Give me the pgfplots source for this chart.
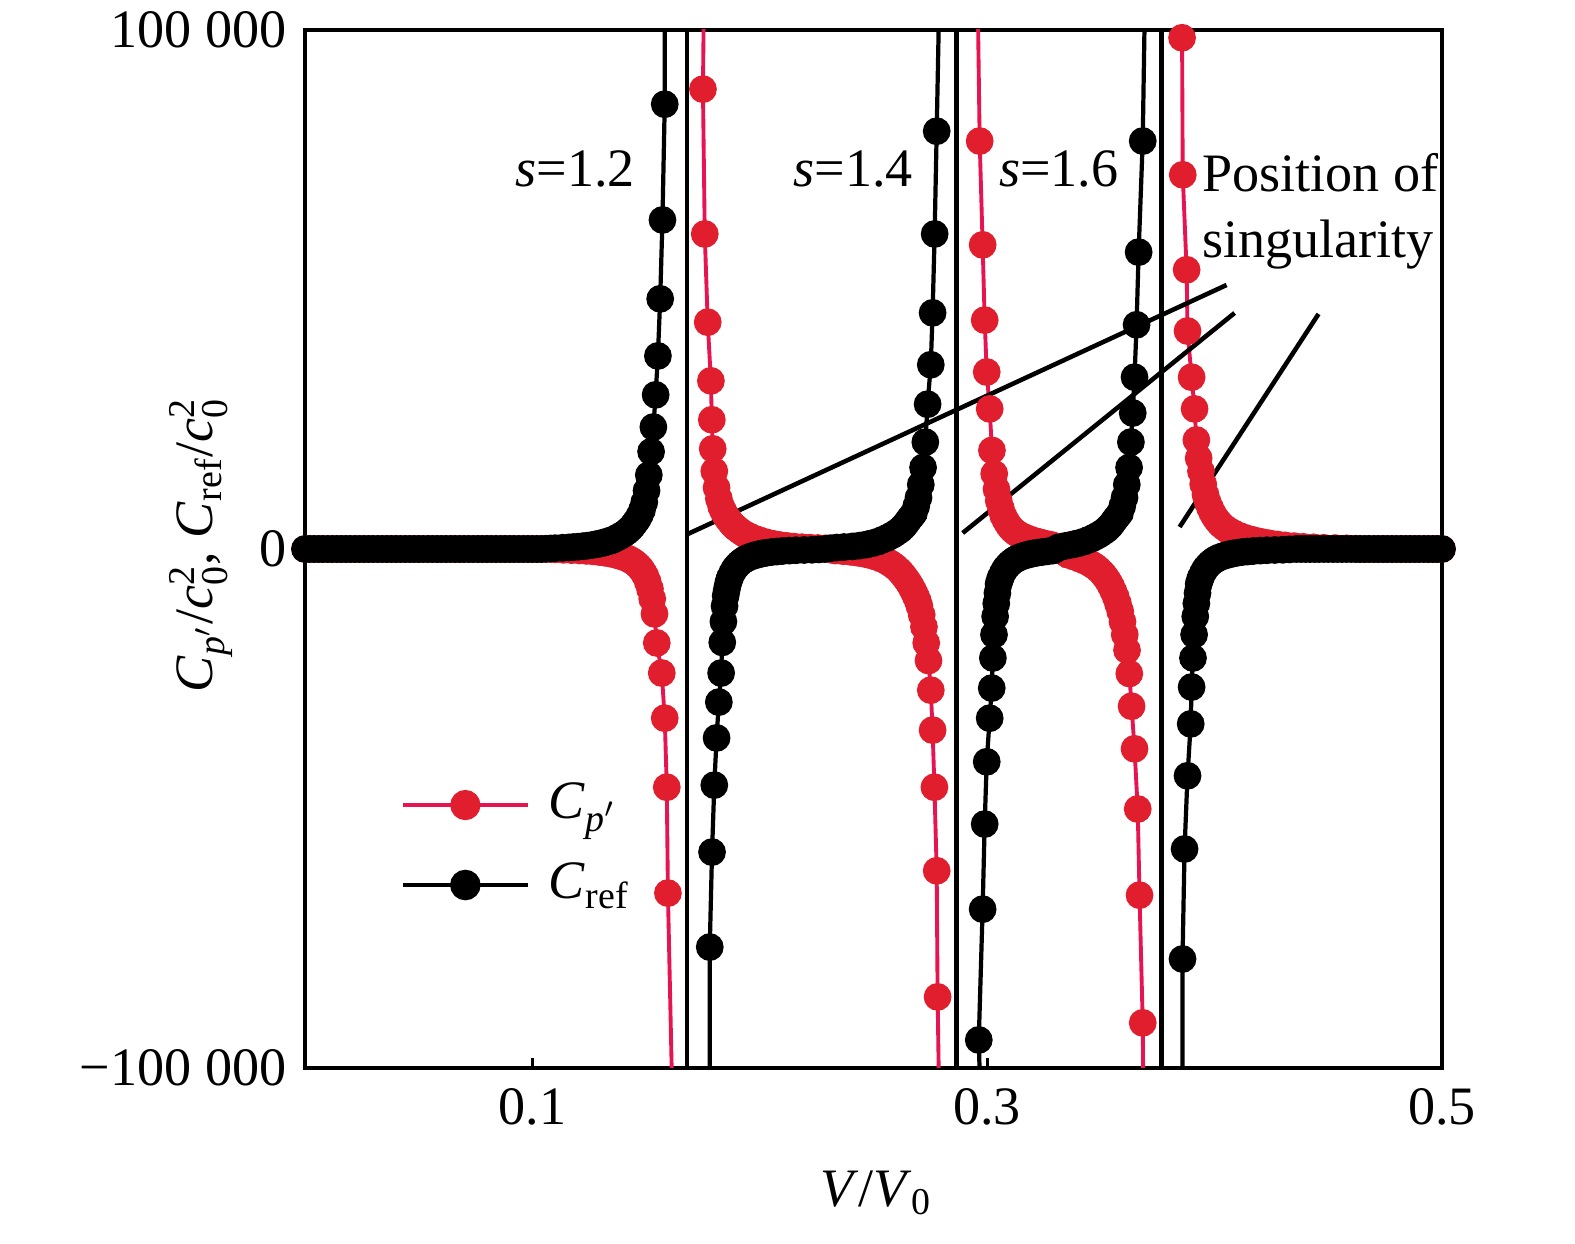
\documentclass[border=0pt]{standalone}
\usepackage{fontspec}
\setmainfont{Liberation Serif}
\usepackage{amsmath}
\usepackage{pgfplots}
\usepackage{pgfplotstable}
\pgfplotsset{compat=1.18}
\definecolor{linered}{RGB}{230,20,80}
\definecolor{markred}{RGB}{225,30,45}

\pgfplotstableread{
x y
0 0
0.002 0
0.004 0
0.006 0
0.008 0
0.010 0
0.012 0
0.014 0
0.016 0
0.018 0
0.020 0
0.022 0
0.024 0
0.026 0
0.028 0
0.030 0
0.032 0
0.034 0
0.036 0
0.038 0
0.040 0
0.042 0
0.044 0
0.046 0
0.048 0
0.050 0
0.052 0
0.054 0
0.056 0
0.058 0
0.060 0
0.062 0
0.064 0
0.066 0
0.068 0
0.070 0
0.072 0
0.074 0
0.076 0
0.078 0
0.080 0
0.082 0
0.084 0
0.086 0
0.088 0
0.090 0
0.092 0
0.094 0
0.096 0
0.098 0
0.100 0
0.102 0
0.104 0
0.106 0
0.108 0
0.110 -60
0.1137 -160
0.1172 -220
0.1207 -280
0.1237 -360
0.1267 -450
0.1292 -570
0.1317 -700
0.1337 -840
0.1357 -1000
0.1372 -1170
0.1387 -1350
0.1402 -1560
0.1417 -1800
0.1427 -2020
0.1437 -2250
0.1447 -2550
0.1457 -2900
0.1467 -3300
0.1477 -3800
0.1487 -4450
0.1497 -5200
0.1507 -6300
0.1517 -7700
0.1527 -9600
0.1537 -12500
0.1547 -18100
0.1569 -23900
0.1582 -32600
0.1591 -45900
0.1596 -66300
0.1613 -101000
nan nan
0.1753 101000
0.1750 88600
0.1758 60700
0.1771 43700
0.1785 32400
0.1789 24900
0.1793 19300
0.1800 15000
0.1810 11800
0.1820 9700
0.1830 8200
0.1838 7450
0.1845 6800
0.1852 6300
0.1860 5800
0.1870 5230
0.1880 4700
0.1890 4270
0.1900 3900
0.1915 3400
0.1930 2950
0.1945 2600
0.1960 2300
0.1980 1950
0.2000 1650
0.2020 1380
0.2040 1150
0.2065 940
0.2090 750
0.2120 590
0.2150 460
0.2185 350
0.2220 260
0.2255 190
0.2290 130
0.2311 -100
0.2332 -300
0.2367 -420
0.2402 -560
0.2432 -740
0.2462 -950
0.2487 -1200
0.2512 -1500
0.2532 -1830
0.2552 -2200
0.2567 -2580
0.2582 -3000
0.2597 -3500
0.2612 -4100
0.2622 -4580
0.2632 -5100
0.2642 -5700
0.2652 -6300
0.2662 -7000
0.2672 -7800
0.2680 -8500
0.2687 -9200
0.2695 -10000
0.2702 -11000
0.2712 -12700
0.2722 -15000
0.2732 -18100
0.2742 -21500
0.2752 -27200
0.2760 -34900
0.2768 -45900
0.2778 -62000
0.2782 -86300
0.2787 -101000
nan nan
0.2960 101000
0.2967 78600
0.2980 58600
0.2989 44100
0.2998 34100
0.3011 27000
0.3021 19000
0.3031 14500
0.3041 11500
0.3051 9300
0.3061 7700
0.3071 6400
0.3081 5550
0.3091 4800
0.3101 4200
0.3111 3700
0.3121 3330
0.3131 3000
0.3146 2620
0.3161 2300
0.3176 2030
0.3191 1800
0.3211 1530
0.3231 1300
0.3256 1030
0.3281 800
0.3300 500
0.3320 200
0.3337 -500
0.3355 -1100
0.3380 -1450
0.3405 -1850
0.3425 -2200
0.3445 -2600
0.3460 -2980
0.3475 -3400
0.3490 -3950
0.3505 -4600
0.3515 -5130
0.3525 -5700
0.3535 -6400
0.3545 -7200
0.3555 -8150
0.3565 -9200
0.3575 -10500
0.3585 -12000
0.3595 -14000
0.3605 -16500
0.3615 -19500
0.3625 -24000
0.3635 -30300
0.3648 -38500
0.3662 -50100
0.3670 -66700
0.3684 -91300
0.3686 -101000
nan nan
0.3858 101000
0.3857 98500
0.3860 72100
0.3877 53800
0.3881 42000
0.3899 33100
0.3912 27000
0.3920 21000
0.3930 17500
0.3940 15000
0.3950 12500
0.3960 10500
0.3970 9000
0.3980 7950
0.3990 7000
0.4000 6250
0.4010 5600
0.4020 5080
0.4030 4600
0.4045 4070
0.4060 3600
0.4075 3220
0.4090 2900
0.4110 2520
0.4130 2200
0.4155 1880
0.4180 1600
0.4210 1330
0.4240 1100
0.4275 880
0.4310 700
0.4350 550
0.4390 420
0.4435 320
0.4480 230
0.4530 170
0.4580 120
0.4620 50
0.464 0
0.466 0
0.468 0
0.470 0
0.472 0
0.474 0
0.476 0
0.478 0
0.480 0
0.482 0
0.484 0
0.486 0
0.488 0
0.490 0
0.492 0
0.494 0
0.496 0
0.498 0
0.500 0
}\reddata

\pgfplotstableread{
x y
0 0
0.002 0
0.004 0
0.006 0
0.008 0
0.010 0
0.012 0
0.014 0
0.016 0
0.018 0
0.020 0
0.022 0
0.024 0
0.026 0
0.028 0
0.030 0
0.032 0
0.034 0
0.036 0
0.038 0
0.040 0
0.042 0
0.044 0
0.046 0
0.048 0
0.050 0
0.052 0
0.054 0
0.056 0
0.058 0
0.060 0
0.062 0
0.064 0
0.066 0
0.068 0
0.070 0
0.072 0
0.074 0
0.076 0
0.078 0
0.080 0
0.082 0
0.084 0
0.086 0
0.088 0
0.090 0
0.092 0
0.094 0
0.096 0
0.098 0
0.100 0
0.102 0
0.104 0
0.106 40
0.108 100
0.110 150
0.1132 230
0.1160 300
0.1180 370
0.1202 450
0.1222 540
0.1242 640
0.1262 760
0.1282 920
0.1297 1050
0.1312 1200
0.1327 1400
0.1342 1600
0.1352 1750
0.1367 2050
0.1382 2400
0.1397 2800
0.1412 3200
0.1422 3600
0.1432 4000
0.1442 4500
0.1452 5100
0.1462 5700
0.1472 6500
0.1482 7500
0.1492 9000
0.1502 11250
0.1512 14250
0.1522 18750
0.1532 23500
0.1542 29700
0.1552 37200
0.1562 48200
0.1572 63400
0.1582 85700
0.1582 101000
nan nan
0.1780 -101000
0.1780 -76700
0.1790 -58400
0.1800 -45500
0.1810 -36400
0.1820 -29500
0.1830 -23900
0.1835 -18000
0.1840 -14000
0.1845 -11000
0.1850 -9000
0.1855 -7800
0.1860 -6750
0.1865 -6000
0.1870 -5400
0.1880 -4500
0.1890 -3750
0.1900 -3250
0.1910 -2780
0.1920 -2420
0.1930 -2100
0.1940 -1860
0.1950 -1650
0.1965 -1400
0.1980 -1200
0.1995 -1020
0.2010 -870
0.2030 -720
0.2050 -600
0.2075 -490
0.2100 -390
0.2130 -310
0.2160 -240
0.2195 -190
0.2230 -150
0.2260 -80
0.2285 0
0.2310 150
0.2338 280
0.2370 380
0.2408 500
0.2438 650
0.2468 850
0.2493 1100
0.2518 1400
0.2538 1750
0.2558 2100
0.2573 2450
0.2588 2800
0.2603 3250
0.2618 3700
0.2628 4150
0.2638 4600
0.2648 5200
0.2658 5800
0.2668 6350
0.2678 6900
0.2688 8250
0.2698 9900
0.2708 12400
0.2718 15700
0.2728 20600
0.2738 27900
0.2752 35500
0.2760 45500
0.2769 60700
0.2778 80500
0.2787 101000
nan nan
0.2967 -101000
0.2963 -94600
0.2980 -69400
0.2989 -53000
0.2998 -41000
0.3011 -32600
0.3020 -26800
0.3025 -21000
0.3030 -16500
0.3035 -13000
0.3040 -10500
0.3045 -8500
0.3050 -6750
0.3055 -6000
0.3060 -5400
0.3070 -4500
0.3080 -3750
0.3090 -3250
0.3100 -2780
0.3110 -2420
0.3120 -2100
0.3130 -1860
0.3140 -1650
0.3155 -1400
0.3170 -1200
0.3185 -1020
0.3200 -870
0.3220 -720
0.3240 -600
0.3265 -450
0.3290 -300
0.3302 0
0.3314 300
0.3344 600
0.3374 850
0.3399 1100
0.3424 1400
0.3444 1750
0.3464 2100
0.3479 2450
0.3494 2800
0.3509 3250
0.3524 3700
0.3534 4150
0.3544 4600
0.3554 5200
0.3564 5800
0.3574 6350
0.3584 6900
0.3594 8250
0.3604 9900
0.3614 12400
0.3624 15700
0.3632 20600
0.3640 26200
0.3648 33100
0.3657 43200
0.3666 57200
0.3684 78600
0.3692 101000
nan nan
0.3859 -101000
0.3859 -79000
0.3868 -57800
0.3881 -43700
0.3895 -33700
0.3899 -26600
0.3905 -21000
0.3910 -16500
0.3915 -13000
0.3920 -10500
0.3925 -8500
0.3930 -6750
0.3935 -6000
0.3940 -5400
0.3950 -4500
0.3960 -3750
0.3970 -3250
0.3980 -2780
0.3990 -2420
0.4000 -2100
0.4010 -1860
0.4020 -1650
0.4035 -1400
0.4050 -1200
0.4065 -1020
0.4080 -870
0.4100 -720
0.4120 -600
0.4145 -490
0.4170 -390
0.4200 -310
0.4230 -240
0.4265 -190
0.4300 -150
0.4330 -80
0.436 0
0.438 0
0.440 0
0.442 0
0.444 0
0.446 0
0.448 0
0.450 0
0.452 0
0.454 0
0.456 0
0.458 0
0.460 0
0.462 0
0.464 0
0.466 0
0.468 0
0.470 0
0.472 0
0.474 0
0.476 0
0.478 0
0.480 0
0.482 0
0.484 0
0.486 0
0.488 0
0.490 0
0.492 0
0.494 0
0.496 0
0.498 0
0.500 0
}\blackdata

\begin{document}
\fontsize{15.4pt}{18pt}\selectfont
\begin{tikzpicture}
\useasboundingbox (-30.5mm,-17.6mm) rectangle (127mm,106.8mm);
\begin{axis}[
  at={(0,0)}, anchor=south west,
  scale only axis, width=113.7mm, height=103.8mm,
  xmin=0, xmax=0.5, ymin=-100000, ymax=100000,
  xtick={0.1,0.3,0.5}, xticklabels={0.1,0.3,0.5},
  ytick={-100000,0,100000}, yticklabels={−100~000,0,100~000},
  scaled ticks=false,
  xtick pos=left, ytick pos=left,
  tick align=inside,
  major tick length=1mm,
  tick style={line width=0.9pt, black},
  axis line style={line width=0.9pt},
  xticklabel style={anchor=base, yshift=-5.7mm},
  xlabel={\textit{V}/\textit{V}\textsubscript{0}},
  xlabel style={at={(axis description cs:0.5026,-0.1339)}, anchor=base},
  ylabel={\textit{C}\textsubscript{\textit{p}$'$}/\textit{c}$_{\text{0}}^{\text{2}}$, \textit{C}\textsubscript{ref}/\textit{c}$_{\text{0}}^{\text{2}}$},
  ylabel style={at={(axis description cs:-0.0915,0.5039)}, anchor=center},
  unbounded coords=jump,
  legend cell align=left,
  legend style={at={(axis description cs:0.0836,0.2148)}, anchor=west, draw=none, fill=none,
    inner sep=0pt, row sep=2.8mm, column sep=1.5mm, nodes={inner sep=0.4mm}},
  legend image code/.code={\draw[mark repeat=2,mark phase=2,#1] plot coordinates {(0mm,0mm) (6.25mm,0mm) (12.5mm,0mm)};},
]
\addlegendimage{linered, line width=1.1pt, mark=*, mark size=3.75pt, mark options={fill=markred, draw=markred}}
\addlegendentry{\textit{C}\textsubscript{\textit{p}$'$}}
\addlegendimage{black, line width=1.2pt, mark=*, mark size=3.75pt, mark options={fill=black, draw=black}}
\addlegendentry{\textit{C}\textsubscript{ref}}

\addplot[linered, line width=1.1pt, no marks, forget plot] table {\reddata};
\addplot[only marks, mark=*, mark size=3.75pt, mark options={fill=markred, draw=markred}, restrict y to domain=-100200:100200, forget plot] table {\reddata};
\addplot[black, line width=1.2pt, no marks, forget plot] table {\blackdata};
\addplot[only marks, mark=*, mark size=3.75pt, mark options={fill=black, draw=black}, restrict y to domain=-100200:100200, forget plot] table {\blackdata};

\addplot[black, line width=1.3pt, forget plot] coordinates {(0.1679,-100000) (0.1679,100000)};
\addplot[black, line width=1.3pt, forget plot] coordinates {(0.2866,-100000) (0.2866,100000)};
\addplot[black, line width=1.3pt, forget plot] coordinates {(0.3767,-100000) (0.3767,100000)};

\addplot[black, line width=1.3pt, forget plot] coordinates {(0.16835,2890) (0.40527,50870)};
\addplot[black, line width=1.3pt, forget plot] coordinates {(0.28923,3083) (0.40879,45470)};
\addplot[black, line width=1.3pt, forget plot] coordinates {(0.38462,4240) (0.44571,45280)};

\node[anchor=base west, inner sep=0pt] at (axis cs:0.0923,69750) {\textit{s}=1.2};
\node[anchor=base west, inner sep=0pt] at (axis cs:0.2145,69750) {\textit{s}=1.4};
\node[anchor=base west, inner sep=0pt] at (axis cs:0.3050,69750) {\textit{s}=1.6};
\node[anchor=base west, inner sep=0pt] at (axis cs:0.3943,68790) {Position of};
\node[anchor=base west, inner sep=0pt] at (axis cs:0.3943,56070) {singularity};
\end{axis}
\end{tikzpicture}
\end{document}
